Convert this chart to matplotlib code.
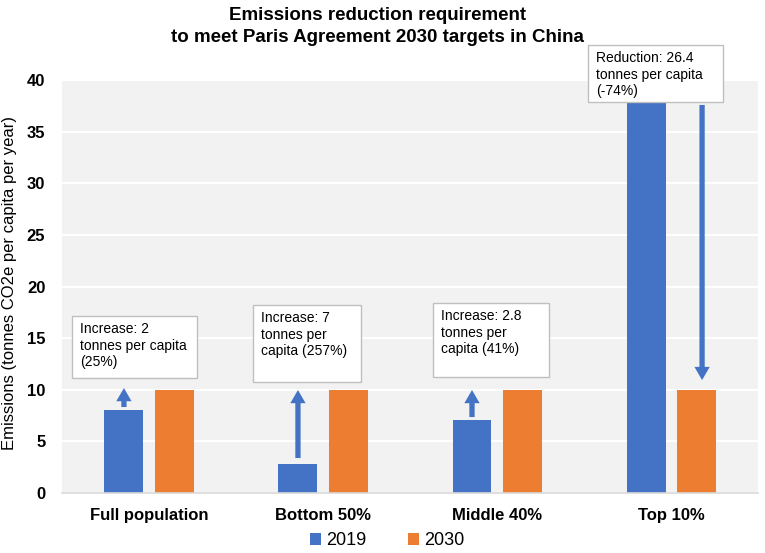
import matplotlib
matplotlib.use("Agg")
import matplotlib.pyplot as plt
from matplotlib.patches import Rectangle
import numpy as np

plt.rcParams['font.family'] = ['Liberation Sans', 'DejaVu Sans']

categories = ["Full population", "Bottom 50%", "Middle 40%", "Top 10%"]
values_2019 = [8.0, 2.8, 7.1, 40.0]
values_2030 = [10.0, 10.0, 10.0, 10.0]
series_labels = ["2019", "2030"]
yticks = [0, 5, 10, 15, 20, 25, 30, 35, 40]

box_texts = ["Increase: 2\ntonnes per capita\n(25%)",
             "Increase: 7\ntonnes per\ncapita (257%)",
             "Increase: 2.8\ntonnes per\ncapita (41%)",
             "Reduction: 26.4\ntonnes per capita\n(-74%)"]
# box extents (x0, x1, y0, y1) in data coordinates
boxes = [(-0.443, 0.276, 11.14, 17.14),
         (0.598, 1.218, 10.75, 18.2),
         (1.632, 2.299, 11.23, 18.4),
         (2.523, 3.299, 37.87, 43.4)]
# arrows: (x, y_start, y_end)
arrows = [(-0.144, 8.33, 10.17),
          (0.856, 3.39, 9.98),
          (1.856, 7.36, 9.98),
          (3.178, 37.6, 10.94)]

blue = "#4472C4"
orange = "#ED7D31"

fig = plt.figure(figsize=(7.65, 5.53), dpi=100)
ax = fig.add_axes([0.081, 0.1085, 0.91, 0.7465])
ax.set_facecolor("#F2F2F2")

x = np.arange(len(categories))
off = 0.144
w = 0.224
ax.bar(x - off, values_2019, w, color=blue, label=series_labels[0], zorder=2)
ax.bar(x + off, values_2030, w, color=orange, label=series_labels[1], zorder=2)

ax.set_xlim(-0.5, 3.5)
ax.set_ylim(0, 40)
ax.set_yticks(yticks)
ax.set_xticks(x)
ax.set_xticklabels(categories, fontsize=12, fontweight='bold')
for lab in ax.get_yticklabels():
    lab.set_fontsize(12)
    lab.set_fontweight('bold')
ax.tick_params(axis='y', length=0, pad=12)
ax.tick_params(axis='x', length=0, pad=11)
ax.yaxis.grid(True, color='white', lw=1.5, zorder=0)
ax.set_axisbelow(True)
for s in ['top', 'right', 'left']:
    ax.spines[s].set_visible(False)
ax.spines['bottom'].set_color('#D9D9D9')
ax.spines['bottom'].set_linewidth(1.2)

ax.set_ylabel("Emissions (tonnes CO2e per capita per year)", fontsize=12)
ax.yaxis.set_label_coords(-0.064, 0.508)

for (x0, x1, y0, y1), t in zip(boxes, box_texts):
    ax.add_patch(Rectangle((x0, y0), x1 - x0, y1 - y0, facecolor='white',
                           edgecolor='#BFBFBF', lw=1, zorder=4, clip_on=False))
    ax.text(x0 + 0.045, y1 - 0.6, t, fontsize=10, va='top', ha='left',
            linespacing=1.22, zorder=5, clip_on=False)

for ax_x, y0, y1 in arrows:
    ax.annotate("", xy=(ax_x, y1), xytext=(ax_x, y0),
                arrowprops=dict(arrowstyle="simple,head_width=1.1,head_length=0.95,tail_width=0.38",
                                mutation_scale=10, color=blue, shrinkA=0, shrinkB=0, lw=0),
                zorder=3)

fig.suptitle("Emissions reduction requirement\nto meet Paris Agreement 2030 targets in China",
             x=0.494, y=0.988, fontsize=13.5, fontweight='bold', linespacing=1.4)

leg = fig.legend(handles=ax.get_legend_handles_labels()[0], labels=series_labels,
                 loc='center', bbox_to_anchor=(0.506, 0.022), ncol=2, frameon=False,
                 fontsize=13, handlelength=0.6, handleheight=0.6, columnspacing=2.3,
                 handletextpad=0.3)

fig.savefig("out.png", dpi=100)
